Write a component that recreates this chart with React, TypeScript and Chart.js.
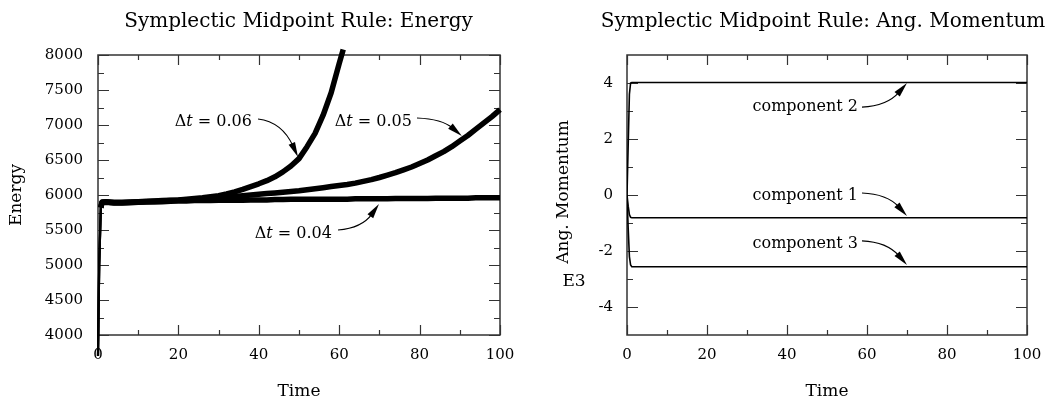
import React, { useEffect, useRef } from 'react';
import { Chart, registerables } from 'chart.js';

Chart.register(...registerables);

const SERIF = '"DejaVu Serif", "Liberation Serif", serif';

// ---------- Energy plot data ----------
const energyTime = [0, 0.3, 0.7, 1, 2, 4, 6, 8, 10, 12, 14, 16, 18, 20, 22, 24, 26, 28, 30, 32, 34, 36, 38, 40, 42, 44, 46, 48, 50, 52, 54, 56, 58, 60, 61, 62, 64, 66, 68, 70, 72, 74, 76, 78, 80, 82, 84, 86, 88, 90, 92, 94, 96, 98, 100];
const energyDt004 = [3700, 5000, 5820, 5890, 5895, 5885, 5885, 5890, 5895, 5900, 5900, 5905, 5910, 5915, 5915, 5920, 5920, 5920, 5925, 5925, 5925, 5925, 5930, 5930, 5930, 5935, 5935, 5940, 5940, 5940, 5940, 5940, 5940, 5940, 5940, 5940, 5945, 5945, 5945, 5945, 5945, 5950, 5950, 5950, 5950, 5950, 5955, 5955, 5955, 5955, 5955, 5960, 5960, 5960, 5960];
const energyDt005 = [3700, 5000, 5820, 5895, 5900, 5890, 5890, 5895, 5900, 5905, 5910, 5915, 5920, 5925, 5930, 5935, 5940, 5950, 5960, 5970, 5980, 5990, 6000, 6010, 6020, 6030, 6040, 6050, 6060, 6075, 6090, 6105, 6120, 6135, 6142, 6150, 6170, 6195, 6220, 6250, 6285, 6320, 6360, 6400, 6450, 6500, 6560, 6620, 6690, 6770, 6850, 6940, 7030, 7120, 7220];
const energyDt006 = [3700, 5000, 5820, 5900, 5905, 5895, 5895, 5900, 5905, 5910, 5915, 5920, 5925, 5930, 5940, 5950, 5960, 5975, 5990, 6015, 6045, 6080, 6120, 6160, 6205, 6260, 6330, 6415, 6520, 6690, 6880, 7140, 7460, 7880, 8080];

const energySeriesLabels = ['Δt = 0.04', 'Δt = 0.05', 'Δt = 0.06'];

// ---------- Angular momentum plot data ----------
const angTime = [0, 0.3, 0.6, 0.9, 1.2, 100];
const angComp1 = [0, -0.4, -0.7, -0.8, -0.81, -0.81];
const angComp2 = [0, 1.8, 3.6, 4.0, 4.02, 4.02];
const angComp3 = [0, -1.2, -2.2, -2.5, -2.56, -2.56];

// ---------- Ticks ----------
const timeTicks = [0, 20, 40, 60, 80, 100];
const timeMinorTicks = [10, 30, 50, 70, 90];
const energyTicks = [4000, 4500, 5000, 5500, 6000, 6500, 7000, 7500, 8000];
const energyMinorTicks = [4250, 4750, 5250, 5750, 6250, 6750, 7250, 7750];
const angTicks = [-4, -2, 0, 2, 4];
const angMinorTicks = [-3, -1, 1, 3];

type Pt = [number, number];
type Annot = { text: string; anchor: Pt; start: Pt; ctrl: Pt; tip: Pt };

const energyAnnots: Annot[] = [
  { text: 'Δt = 0.06', anchor: [38.3, 6986], start: [39.8, 7086], ctrl: [45.8, 7043], tip: [49.75, 6543] },
  { text: 'Δt = 0.05', anchor: [78.1, 6986], start: [79.35, 7100], ctrl: [85.6, 7086], tip: [90.5, 6843] },
  { text: 'Δt = 0.04', anchor: [58.2, 5386], start: [59.7, 5500], ctrl: [65.7, 5529], tip: [69.9, 5871] },
];

const angAnnots: Annot[] = [
  { text: 'component 2', anchor: [57.75, 3.0], start: [58.75, 3.14], ctrl: [65, 3.18], tip: [70, 4.0] },
  { text: 'component 1', anchor: [57.75, -0.18], start: [58.75, 0.07], ctrl: [65, 0.04], tip: [70, -0.75] },
  { text: 'component 3', anchor: [57.75, -1.89], start: [58.75, -1.64], ctrl: [65, -1.68], tip: [70, -2.5] },
];

const zip = (xs: number[], ys: number[]) => ys.map((y, i) => ({ x: xs[i], y }));

function drawRich(ctx: CanvasRenderingContext2D, text: string, xRight: number, y: number, size: number) {
  const parts = text.startsWith('Δt')
    ? [{ s: 'Δ', i: false }, { s: 't', i: true }, { s: text.slice(2), i: false }]
    : [{ s: text, i: false }];
  const widths = parts.map((p) => {
    ctx.font = `${p.i ? 'italic ' : ''}${size}px ${SERIF}`;
    return ctx.measureText(p.s).width;
  });
  let x = xRight - widths.reduce((a, b) => a + b, 0);
  ctx.textAlign = 'left';
  ctx.textBaseline = 'alphabetic';
  parts.forEach((p, k) => {
    ctx.font = `${p.i ? 'italic ' : ''}${size}px ${SERIF}`;
    ctx.fillText(p.s, x, y);
    x += widths[k];
  });
}

type Cfg = {
  title: string;
  titleX: number;
  yTitle: { text: string; x: number; y: number; rotate: boolean }[];
  xMajor: number[];
  xMinor: number[];
  yMajor: number[];
  yMinor: number[];
  annots: Annot[];
};

function makePlugin(cfg: Cfg) {
  return {
    id: 'paperFrame',
    beforeDatasetsDraw(chart: any) {
      const { ctx, chartArea: a, scales } = chart;
      const xs = scales.x;
      const ys = scales.y;
      ctx.save();
      ctx.strokeStyle = '#333';
      ctx.lineWidth = 1.5;
      ctx.strokeRect(a.left, a.top, a.right - a.left, a.bottom - a.top);
      ctx.lineWidth = 1.2;
      ctx.beginPath();
      const xt = (vals: number[], len: number) => {
        vals.forEach((v) => {
          const p = Math.round(xs.getPixelForValue(v)) + 0.5;
          ctx.moveTo(p, a.bottom);
          ctx.lineTo(p, a.bottom - len);
          ctx.moveTo(p, a.top);
          ctx.lineTo(p, a.top + len);
        });
      };
      const yt = (vals: number[], len: number) => {
        vals.forEach((v) => {
          const p = Math.round(ys.getPixelForValue(v)) + 0.5;
          ctx.moveTo(a.left, p);
          ctx.lineTo(a.left + len, p);
          ctx.moveTo(a.right, p);
          ctx.lineTo(a.right - len, p);
        });
      };
      xt(cfg.xMajor, 10);
      xt(cfg.xMinor, 5);
      yt(cfg.yMajor, 11);
      yt(cfg.yMinor, 6);
      ctx.stroke();
      ctx.restore();
    },
    afterDraw(chart: any) {
      const { ctx, chartArea: a, scales } = chart;
      const xs = scales.x;
      const ys = scales.y;
      ctx.save();
      ctx.fillStyle = '#000';
      // title
      ctx.font = `20px ${SERIF}`;
      ctx.textAlign = 'center';
      ctx.textBaseline = 'alphabetic';
      ctx.fillText(cfg.title, cfg.titleX, 27);
      // x title
      ctx.font = `17px ${SERIF}`;
      ctx.fillText('Time', (a.left + a.right) / 2, 396);
      // y titles
      cfg.yTitle.forEach((t) => {
        ctx.save();
        ctx.translate(t.x, t.y);
        if (t.rotate) ctx.rotate(-Math.PI / 2);
        ctx.textAlign = 'center';
        ctx.textBaseline = 'middle';
        ctx.font = `17px ${SERIF}`;
        ctx.fillText(t.text, 0, 0);
        ctx.restore();
      });
      // annotations
      cfg.annots.forEach((an) => {
        const px = (p: Pt): Pt => [xs.getPixelForValue(p[0]), ys.getPixelForValue(p[1])];
        const [ax, ay] = px(an.anchor);
        drawRich(ctx, an.text, ax, ay, 16);
        const [sx, sy] = px(an.start);
        const [cx, cy] = px(an.ctrl);
        const [tx, ty] = px(an.tip);
        let ux = tx - cx;
        let uy = ty - cy;
        const L = Math.hypot(ux, uy) || 1;
        ux /= L;
        uy /= L;
        const hl = 15;
        const hw = 3.5;
        const bx = tx - ux * hl;
        const by = ty - uy * hl;
        ctx.strokeStyle = '#000';
        ctx.lineWidth = 1.1;
        ctx.beginPath();
        ctx.moveTo(sx, sy);
        ctx.quadraticCurveTo(cx, cy, bx + ux * 3, by + uy * 3);
        ctx.stroke();
        ctx.beginPath();
        ctx.moveTo(tx, ty);
        ctx.lineTo(bx - uy * hw, by + ux * hw);
        ctx.lineTo(bx + uy * hw, by - ux * hw);
        ctx.closePath();
        ctx.fill();
      });
      ctx.restore();
    },
  };
}

function scaleOpts(min: number, max: number, ticks: number[], isX: boolean, size: number, pad: number) {
  return {
    type: 'linear',
    min,
    max,
    grid: { display: false, drawTicks: false },
    border: { display: false },
    afterBuildTicks: (s: any) => {
      s.ticks = ticks.map((v) => ({ value: v }));
    },
    afterFit: (s: any) => {
      if (isX) s.height = size;
      else s.width = size;
    },
    ticks: {
      font: { family: SERIF, size: 15 },
      color: '#000',
      padding: pad,
      autoSkip: false,
      maxRotation: 0,
      callback: (v: any) => String(v),
    },
  };
}

function buildEnergy(): any {
  const ds = (vals: number[], label: string) => ({
    label,
    data: zip(energyTime, vals),
    borderColor: '#000',
    backgroundColor: '#000',
    borderWidth: 5.5,
    pointRadius: 0,
    tension: 0,
    clip: false,
    borderJoinStyle: 'round',
    borderCapStyle: 'butt',
    segment: {
      borderWidth: (c: any) => (c.p0.parsed.x < 0.7 ? 2.2 : undefined),
    },
  });
  return {
    type: 'line',
    data: {
      datasets: [
        ds(energyDt004, energySeriesLabels[0]),
        ds(energyDt005, energySeriesLabels[1]),
        ds(energyDt006, energySeriesLabels[2]),
      ],
    },
    options: {
      responsive: false,
      maintainAspectRatio: false,
      animation: false,
      events: [],
      layout: { padding: { left: 0, top: 55, right: 27, bottom: 0 } },
      plugins: { legend: { display: false }, tooltip: { enabled: false }, title: { display: false } },
      scales: {
        x: scaleOpts(0, 100, timeTicks, true, 66, 11),
        y: scaleOpts(4000, 8000, energyTicks, false, 98, 15),
      },
    },
    plugins: [
      makePlugin({
        title: 'Symplectic Midpoint Rule: Energy',
        titleX: 298.5,
        yTitle: [{ text: 'Energy', x: 17, y: 195, rotate: true }],
        xMajor: timeTicks,
        xMinor: timeMinorTicks,
        yMajor: energyTicks,
        yMinor: energyMinorTicks,
        annots: energyAnnots,
      }),
    ],
  };
}

function buildAng(): any {
  const ds = (vals: number[], label: string) => ({
    label,
    data: zip(angTime, vals),
    borderColor: '#000',
    backgroundColor: '#000',
    borderWidth: 1.6,
    pointRadius: 0,
    tension: 0,
  });
  return {
    type: 'line',
    data: {
      datasets: [ds(angComp1, 'component 1'), ds(angComp2, 'component 2'), ds(angComp3, 'component 3')],
    },
    options: {
      responsive: false,
      maintainAspectRatio: false,
      animation: false,
      events: [],
      layout: { padding: { left: 0, top: 55, right: 27, bottom: 0 } },
      plugins: { legend: { display: false }, tooltip: { enabled: false }, title: { display: false } },
      scales: {
        x: scaleOpts(0, 100, timeTicks, true, 66, 11),
        y: scaleOpts(-5, 5, angTicks, false, 100, 14),
      },
    },
    plugins: [
      makePlugin({
        title: 'Symplectic Midpoint Rule: Ang. Momentum',
        titleX: 296,
        yTitle: [
          { text: 'Ang. Momentum', x: 36.5, y: 192, rotate: true },
          { text: 'E3', x: 47, y: 282, rotate: false },
        ],
        xMajor: timeTicks,
        xMinor: timeMinorTicks,
        yMajor: angTicks,
        yMinor: angMinorTicks,
        annots: angAnnots,
      }),
    ],
  };
}

function PlotCanvas({ build }: { build: () => any }) {
  const ref = useRef<HTMLCanvasElement | null>(null);
  useEffect(() => {
    if (!ref.current) return;
    const c = new Chart(ref.current, build());
    return () => c.destroy();
  }, [build]);
  return <canvas ref={ref} width={527} height={401} style={{ display: 'block', width: 527, height: 401 }} />;
}

export default function App() {
  return (
    <div style={{ position: 'absolute', left: 0, top: 0, width: 1054, height: 401, display: 'flex', background: '#fff' }}>
      <PlotCanvas build={buildEnergy} />
      <PlotCanvas build={buildAng} />
    </div>
  );
}
